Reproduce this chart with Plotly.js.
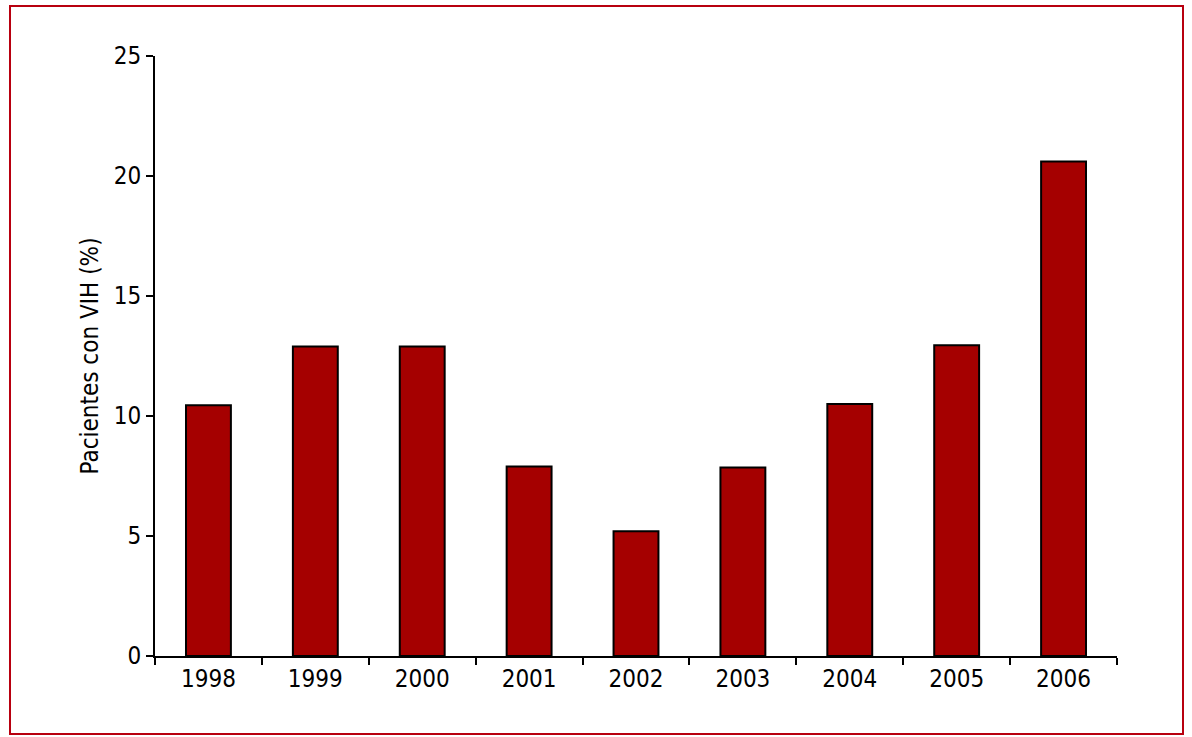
<!DOCTYPE html>
<html>
<head>
<meta charset="utf-8">
<script src="https://cdn.plot.ly/plotly-3.0.1.min.js"></script>
<style>
  html, body { margin: 0; padding: 0; background: #fff; }
  #frame { position: absolute; left: 9px; top: 5px; width: 1171px; height: 726px; border: 2px solid #b8000f; }
  #chart { position: absolute; left: 0; top: 0; width: 1192px; height: 737px; }
</style>
</head>
<body>
<div id="frame"></div>
<div id="chart"></div>
<script>
// years and share of patients with HIV (%)
var years = ['1998', '1999', '2000', '2001', '2002', '2003', '2004', '2005', '2006'];
var pctVIH = [10.45, 12.9, 12.9, 7.9, 5.2, 7.85, 10.5, 12.95, 20.6];
var yTicks = [0, 5, 10, 15, 20, 25];

var font = 'DejaVu Sans Condensed, Liberation Sans, sans-serif';

var trace = {
    type: 'bar',
    x: years,
    y: pctVIH,
    width: 0.42,
    marker: {
        color: '#a50000',
        line: { color: '#000', width: 2 }
    },
    hoverinfo: 'x+y'
};

var layout = {
    width: 1192,
    height: 737,
    margin: { l: 155, r: 75, t: 56, b: 81 },
    paper_bgcolor: 'rgba(0,0,0,0)',
    plot_bgcolor: 'rgba(0,0,0,0)',
    showlegend: false,
    font: { family: font, color: '#000', size: 24 },
    xaxis: {
        type: 'category',
        range: [-0.5, 8.5],
        showline: true,
        linecolor: '#000',
        linewidth: 2,
        ticks: 'outside',
        tickson: 'boundaries',
        ticklen: 7,
        tickwidth: 2,
        tickcolor: '#000',
        showgrid: false,
        zeroline: false,
        tickfont: { family: font, size: 24 }
    },
    yaxis: {
        range: [0, 25],
        tickvals: yTicks,
        showline: true,
        linecolor: '#000',
        linewidth: 2,
        ticks: 'outside',
        ticklen: 7,
        tickwidth: 2,
        tickcolor: '#000',
        showgrid: false,
        zeroline: false,
        tickfont: { family: font, size: 24 },
        title: {
            text: 'Pacientes con VIH (%)',
            font: { family: font, size: 24 },
            standoff: 8
        }
    }
};

Plotly.newPlot('chart', [trace], layout, { displayModeBar: false, staticPlot: true });
</script>
</body>
</html>
